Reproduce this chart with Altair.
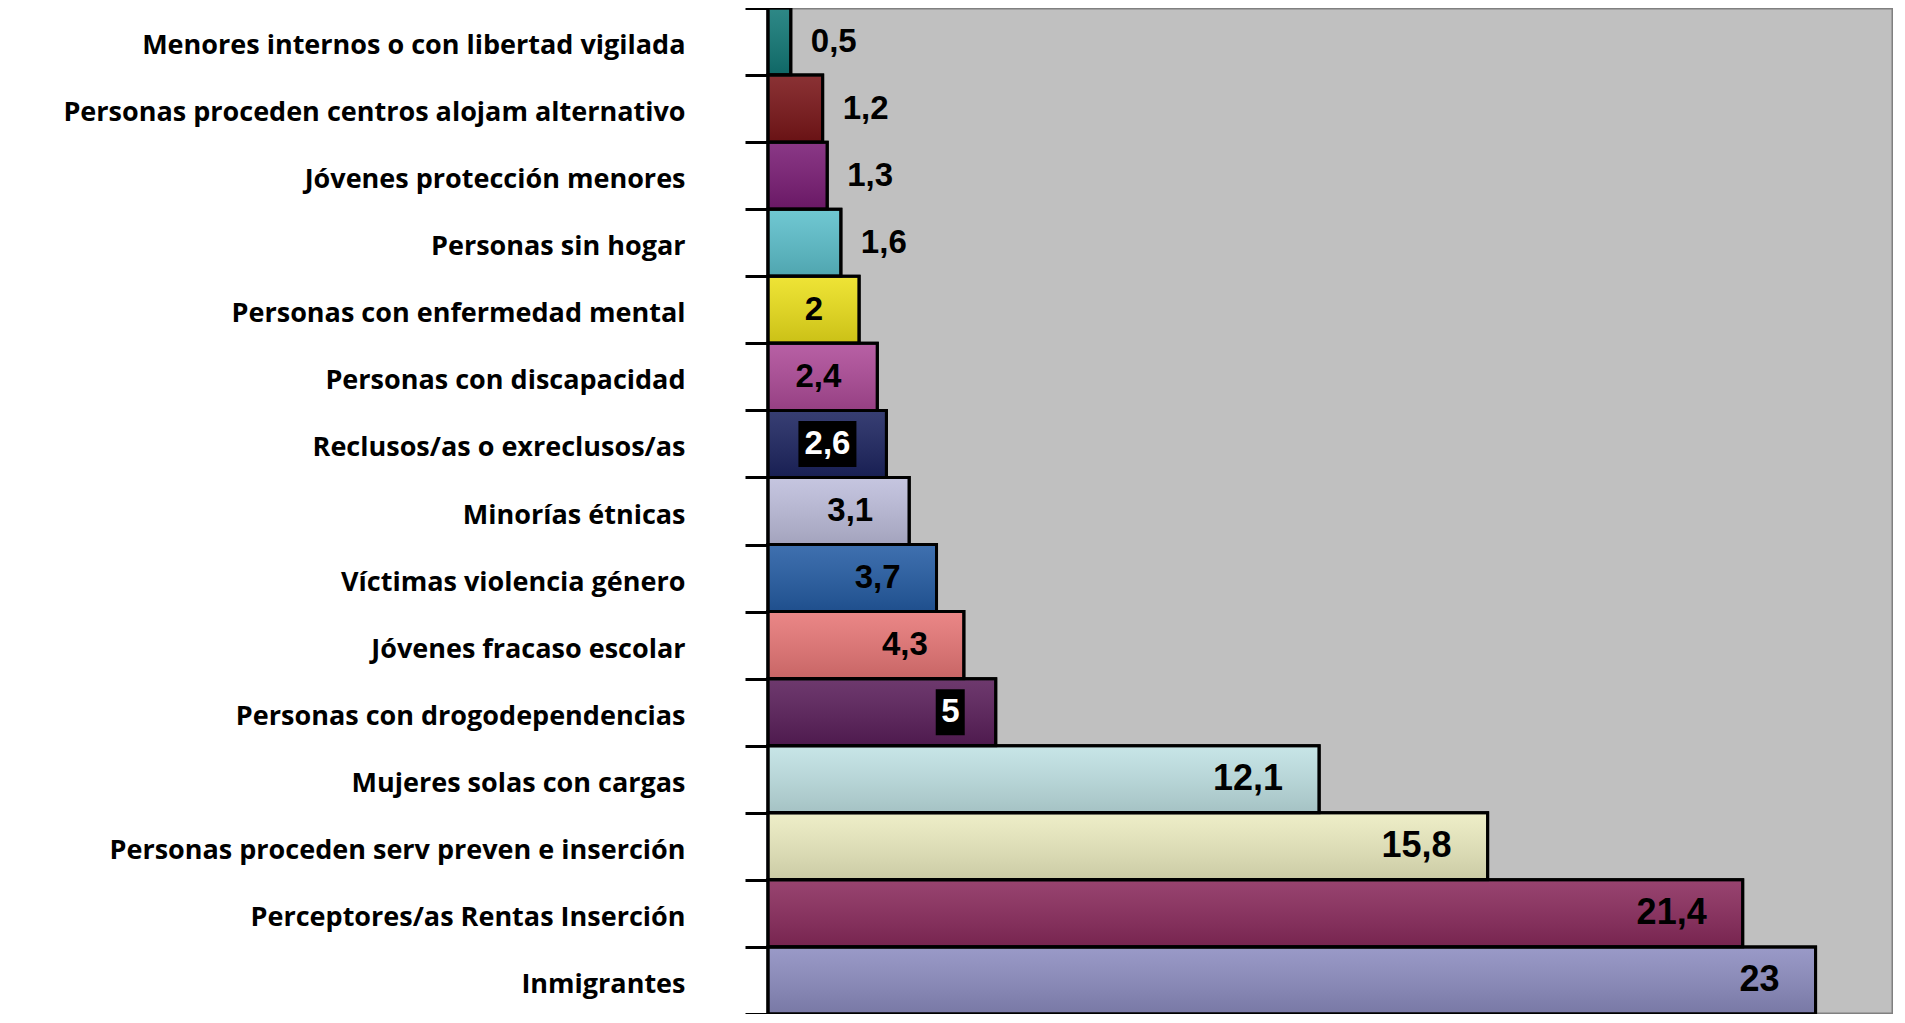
import altair as alt
import pandas as pd

categories = [
    "Menores internos o con libertad vigilada",
    "Personas proceden centros alojam alternativo",
    "Jóvenes protección menores",
    "Personas sin hogar",
    "Personas con enfermedad mental",
    "Personas con discapacidad",
    "Reclusos/as o exreclusos/as",
    "Minorías étnicas",
    "Víctimas violencia género",
    "Jóvenes fracaso escolar",
    "Personas con drogodependencias",
    "Mujeres solas con cargas",
    "Personas proceden serv preven e inserción",
    "Perceptores/as Rentas Inserción",
    "Inmigrantes",
]
values = [0.5, 1.2, 1.3, 1.6, 2, 2.4, 2.6, 3.1, 3.7, 4.3, 5, 12.1, 15.8, 21.4, 23]
colors = [
    "#117876", "#7a1518", "#7a1c75", "#5cc0cc", "#ece01a",
    "#ae4a98", "#1c2460", "#bebedc", "#245ca4", "#e87676",
    "#5a1e5a", "#c0e2e4", "#ececc0", "#8a2a5c", "#8c8cc0",
]
boxed = ["2,6", "5"]


def fmt(v):
    s = ("%g" % v)
    return s.replace(".", ",")


labels = [fmt(v) for v in values]
df = pd.DataFrame({
    "cat": categories,
    "value": values,
    "label": labels,
    "boxed": [l in boxed for l in labels],
})

yaxis = alt.Axis(
    title=None,
    labelFont="Open Sans",
    labelFontSize=27,
    labelFontWeight="bold",
    labelColor="black",
    labelPadding=60,
    labelOffset=4,
    labelLimit=0,
    tickSize=23,
    tickWidth=3,
    tickColor="black",
    tickBand="extent",
    domainColor="black",
    domainWidth=3,
    grid=False,
)

base = alt.Chart(df).encode(
    y=alt.Y("cat:N", sort=categories,
            scale=alt.Scale(paddingInner=0, paddingOuter=0), axis=yaxis)
)

xenc = alt.X("value:Q", scale=alt.Scale(domain=[0, 24.7], nice=False), axis=None)

bars = base.mark_bar(stroke="black", strokeWidth=3).encode(
    x=xenc,
    fill=alt.Fill("cat:N", scale=alt.Scale(domain=categories, range=colors), legend=None),
)

grad = alt.LinearGradient(
    gradient="linear",
    stops=[
        alt.GradientStop(color="rgba(255,255,255,0.12)", offset=0),
        alt.GradientStop(color="rgba(0,0,0,0.14)", offset=1),
    ],
    x1=0, x2=0, y1=0, y2=1,
)
overlay = base.mark_bar(fill=grad, stroke="black", strokeWidth=3).encode(x=xenc)

box26 = base.mark_bar(color="black", size=46, xOffset=-88, x2Offset=-30).encode(
    x=xenc, x2=alt.X2("value")
).transform_filter("datum.label == '2,6'")
box5 = base.mark_bar(color="black", size=46, xOffset=-60, x2Offset=-31).encode(
    x=xenc, x2=alt.X2("value")
).transform_filter("datum.label == '5'")

txt_common = dict(baseline="middle", font="Liberation Sans", fontWeight="bold")

outside = base.mark_text(align="left", dx=20, fontSize=33, color="black", **txt_common).encode(
    x=xenc, text="label:N"
).transform_filter("datum.value < 2")

inside = base.mark_text(align="right", dx=-36, fontSize=33, color="black", **txt_common).encode(
    x=xenc, text="label:N"
).transform_filter("datum.value >= 2 && datum.value < 12 && !datum.boxed")

white = base.mark_text(align="right", dx=-36, fontSize=33, color="white", **txt_common).encode(
    x=xenc, text="label:N"
).transform_filter("datum.boxed")

big = base.mark_text(align="right", dx=-36, fontSize=36, color="black", baseline="middle",
                     font="Liberation Sans Narrow, Liberation Sans", fontWeight="bold").encode(
    x=xenc, text="label:N"
).transform_filter("datum.value >= 12")

chart = alt.layer(bars, overlay, box26, box5, outside, inside, white, big).properties(
    width=1125, height=1006,
    autosize=alt.AutoSizeParams(type="none"),
    padding={"left": 760, "top": 0, "right": 0, "bottom": 0},
).configure_view(fill="#c0c0c0", stroke="#808080", strokeWidth=3)

chart.save("out.html", embed_options={"renderer": "svg", "actions": False})
